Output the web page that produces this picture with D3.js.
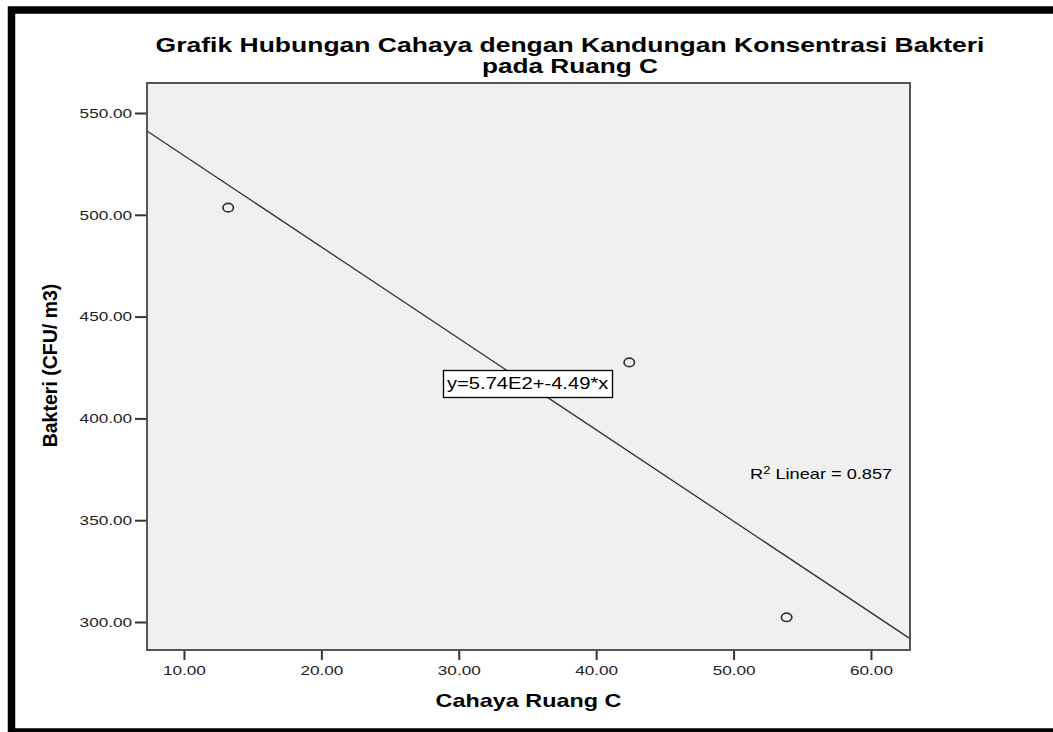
<!DOCTYPE html>
<html>
<head>
<meta charset="utf-8">
<script src="https://cdn.jsdelivr.net/npm/d3@7"></script>
<style>
    body { margin: 0; background: #fff; }
    svg { display: block; }
    text { font-family: "Liberation Sans", Arial, sans-serif; }
</style>
</head>
<body>
<svg id="chart" width="1053" height="732"></svg>
<script>
// data
const cahaya = [13.22, 42.41, 53.86];
const bakteri = [503.5, 427.5, 302.3];
const xTicks = [10, 20, 30, 40, 50, 60];
const yTicks = [300, 350, 400, 450, 500, 550];
const fitIntercept = 574;
const fitSlope = -4.49;
const titleLines = ["Grafik Hubungan Cahaya dengan Kandungan Konsentrasi Bakteri", "pada Ruang C"];
const xTitle = "Cahaya Ruang C";
const yTitle = "Bakteri (CFU/ m3)";
const equationText = "y=5.74E2+-4.49*x";
const r2Text = ["R", "2", " Linear = 0.857"];

const svg = d3.select("#chart"),
    plot = {left: 147, right: 910, top: 83, bottom: 650},
    stretch = 1.3;   // text in the picture is drawn wider than normal

const x = d3.scaleLinear()
    .domain([7.31, 62.84])
    .range([plot.left, plot.right]);

const y = d3.scaleLinear()
    .domain([286.25, 564.73])
    .range([plot.bottom, plot.top]);

// horizontal text, stretched sideways like the original
function label(px, py, str, size, weight, anchor, sx) {
    return svg.append("text")
        .attr("transform", "translate(" + px + "," + py + ") scale(" + (sx || stretch) + ",1)")
        .attr("text-anchor", anchor || "start")
        .attr("font-size", size)
        .attr("font-weight", weight || "normal")
        .attr("fill", "#000")
        .text(str);
}

// outer black frame (its right side is cut off in the original)
svg.append("rect")
    .attr("x", 11.5).attr("y", 10)
    .attr("width", 1100).attr("height", 722)
    .attr("fill", "none")
    .attr("stroke", "#000")
    .attr("stroke-width", 7.5);

// plot background
svg.append("rect")
    .attr("x", plot.left).attr("y", plot.top)
    .attr("width", plot.right - plot.left)
    .attr("height", plot.bottom - plot.top)
    .attr("fill", "#f0f0f0");

svg.append("clipPath").attr("id", "clip")
  .append("rect")
    .attr("x", plot.left).attr("y", plot.top)
    .attr("width", plot.right - plot.left)
    .attr("height", plot.bottom - plot.top);

// fit line
const fitLine = d3.line()
    .x(d => x(d))
    .y(d => y(fitIntercept + fitSlope * d));

svg.append("path")
    .datum(x.domain())
    .attr("clip-path", "url(#clip)")
    .attr("d", fitLine)
    .attr("fill", "none")
    .attr("stroke", "#333")
    .attr("stroke-width", 1.3);

// points
svg.selectAll(".dot")
    .data(cahaya)
  .enter().append("ellipse")
    .attr("class", "dot")
    .attr("cx", d => x(d))
    .attr("cy", (d, i) => y(bakteri[i]))
    .attr("rx", 5.2)
    .attr("ry", 4.2)
    .attr("fill", "none")
    .attr("stroke", "#333")
    .attr("stroke-width", 1.7);

// axes
const xAxis = svg.append("g")
    .attr("transform", "translate(0," + plot.bottom + ")")
    .call(d3.axisBottom(x).tickValues(xTicks).tickSize(10).tickFormat(d3.format(".2f")));

const yAxis = svg.append("g")
    .attr("transform", "translate(" + plot.left + ",0)")
    .call(d3.axisLeft(y).tickValues(yTicks).tickSize(12).tickFormat(d3.format(".2f")));

[xAxis, yAxis].forEach(g => {
    g.select(".domain").remove();
    g.selectAll(".tick line").attr("stroke", "#333").attr("stroke-width", 2);
    g.selectAll(".tick text")
        .attr("font-family", "Liberation Sans, Arial, sans-serif")
        .attr("font-size", 13.5)
        .attr("fill", "#222");
});

xAxis.selectAll(".tick text")
    .attr("y", 15)
    .attr("transform", "scale(1.27,1)");

yAxis.selectAll(".tick text")
    .attr("x", -11.8)
    .attr("transform", "scale(1.27,1)");

// plot frame
svg.append("rect")
    .attr("x", plot.left).attr("y", plot.top)
    .attr("width", plot.right - plot.left)
    .attr("height", plot.bottom - plot.top)
    .attr("fill", "none")
    .attr("stroke", "#555")
    .attr("stroke-width", 2);

// titles
label(570, 52, titleLines[0], 20, "bold", "middle", 1.325);
label(570, 72.5, titleLines[1], 20, "bold", "middle", 1.31);
label((plot.left + plot.right) / 2, 707, xTitle, 18, "bold", "middle", 1.3);

svg.append("text")
    .attr("transform", "translate(57," + ((plot.top + plot.bottom) / 2 - 1) + ") rotate(-90)")
    .attr("text-anchor", "middle")
    .attr("font-size", 19.5)
    .attr("font-weight", "bold")
    .text(yTitle);

// equation box
svg.append("rect")
    .attr("x", 443.5).attr("y", 370.5)
    .attr("width", 169).attr("height", 27)
    .attr("fill", "#fff")
    .attr("stroke", "#000")
    .attr("stroke-width", 1.3);

label(447, 389, equationText, 16, "normal", "start", 1.26);

// R squared
const r2 = label(750, 479, "", 14, "normal", "start", 1.3);
r2.append("tspan").text(r2Text[0]);
r2.append("tspan").attr("dy", -5).attr("font-size", 10).text(r2Text[1]);
r2.append("tspan").attr("dy", 5).text(r2Text[2]);
</script>
</body>
</html>
